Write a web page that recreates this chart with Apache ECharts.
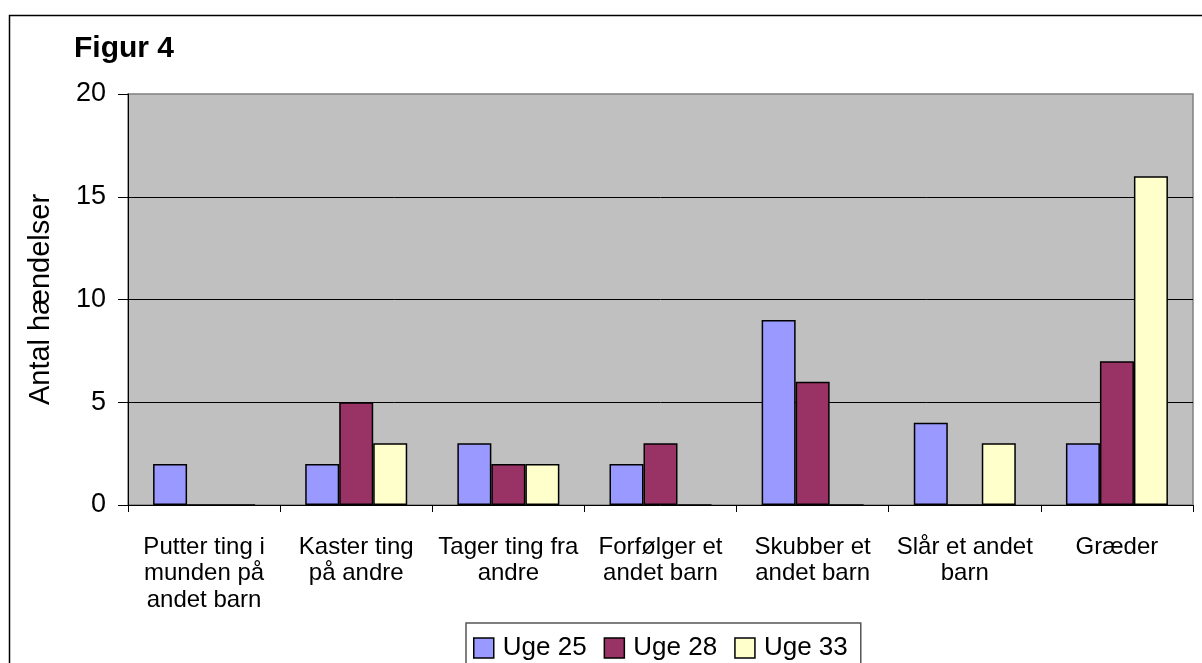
<!DOCTYPE html>
<html>
<head>
<meta charset="utf-8">
<script src="https://cdn.jsdelivr.net/npm/echarts@6/dist/echarts.min.js"></script>
<style>html,body{margin:0;padding:0;background:#fff}#c{width:1202px;height:663px}</style>
</head>
<body>
<div id="c"></div>
<script>
const categories = ["Putter ting i\nmunden på\nandet barn", "Kaster ting\npå andre", "Tager ting fra\nandre", "Forfølger et\nandet barn", "Skubber et\nandet barn", "Slår et andet\nbarn", "Græder"];
const uge25 = [2, 2, 3, 2, 9, 4, 3];
const uge28 = [0, 5, 2, 3, 6, 0, 7];
const uge33 = [0, 3, 2, 0, 0, 3, 16];
const seriesNames = ["Uge 25", "Uge 28", "Uge 33"];
const yTicks = [0, 5, 10, 15, 20];

const chart = echarts.init(document.getElementById('c'), null, {renderer: 'canvas'});
const font = '"Liberation Sans", Arial, sans-serif';
const colors = ['#9999FF', '#993366', '#FFFFCC'];
const mk = (name, data, i) => ({
  name, type: 'bar', data, barWidth: 34, barGap: '0%',
  itemStyle: {color: colors[i], borderColor: '#000', borderWidth: 1.5},
  emphasis: {disabled: true}, animation: false
});
chart.setOption({
  animation: false,
  textStyle: {fontFamily: font, color: '#000'},
  title: {text: 'Figur 4', left: 69, top: 29, textStyle: {fontFamily: font, fontSize: 30, fontWeight: 'bold', color: '#000'}},
  graphic: [{type: 'rect', shape: {x: 9.5, y: 15.5, width: 1220, height: 700}, style: {fill: 'none', stroke: '#000', lineWidth: 1.5}, silent: true, z: 100}],
  grid: {left: 128, top: 94, right: 9, bottom: 158, show: true, backgroundColor: '#C0C0C0', borderColor: '#808080', borderWidth: 1.5},
  legend: {
    data: seriesNames, left: 466, top: 623, orient: 'horizontal',
    icon: 'rect', itemWidth: 20, itemHeight: 20, itemGap: 17,
    padding: [12, 13, 30, 7], borderColor: '#555', borderWidth: 1.5, backgroundColor: '#fff',
    textStyle: {fontFamily: font, fontSize: 26, color: '#000', padding: [0, 0, 0, 4]},
    itemStyle: {borderColor: '#000', borderWidth: 1.5}
  },
  xAxis: {
    type: 'category', data: categories,
    axisLine: {lineStyle: {color: '#000', width: 1}},
    axisTick: {show: true, length: 7, lineStyle: {color: '#000'}},
    axisLabel: {interval: 0, fontFamily: font, fontSize: 24, lineHeight: 26.5, color: '#000', margin: 29}
  },
  yAxis: {
    type: 'value', min: yTicks[0], max: yTicks[yTicks.length - 1], interval: 5,
    name: 'Antal hændelser', nameLocation: 'middle', nameGap: 73,
    nameTextStyle: {fontFamily: font, fontSize: 29, color: '#000'},
    axisLine: {show: true, lineStyle: {color: '#000', width: 1}},
    axisTick: {show: true, length: 10, lineStyle: {color: '#000'}},
    axisLabel: {fontFamily: font, fontSize: 27, color: '#000', margin: 22},
    splitLine: {show: true, showMinLine: false, showMaxLine: false, lineStyle: {color: '#000', width: 1}}
  },
  series: [mk(seriesNames[0], uge25, 0), mk(seriesNames[1], uge28, 1), mk(seriesNames[2], uge33, 2)]
});
</script>
</body>
</html>
